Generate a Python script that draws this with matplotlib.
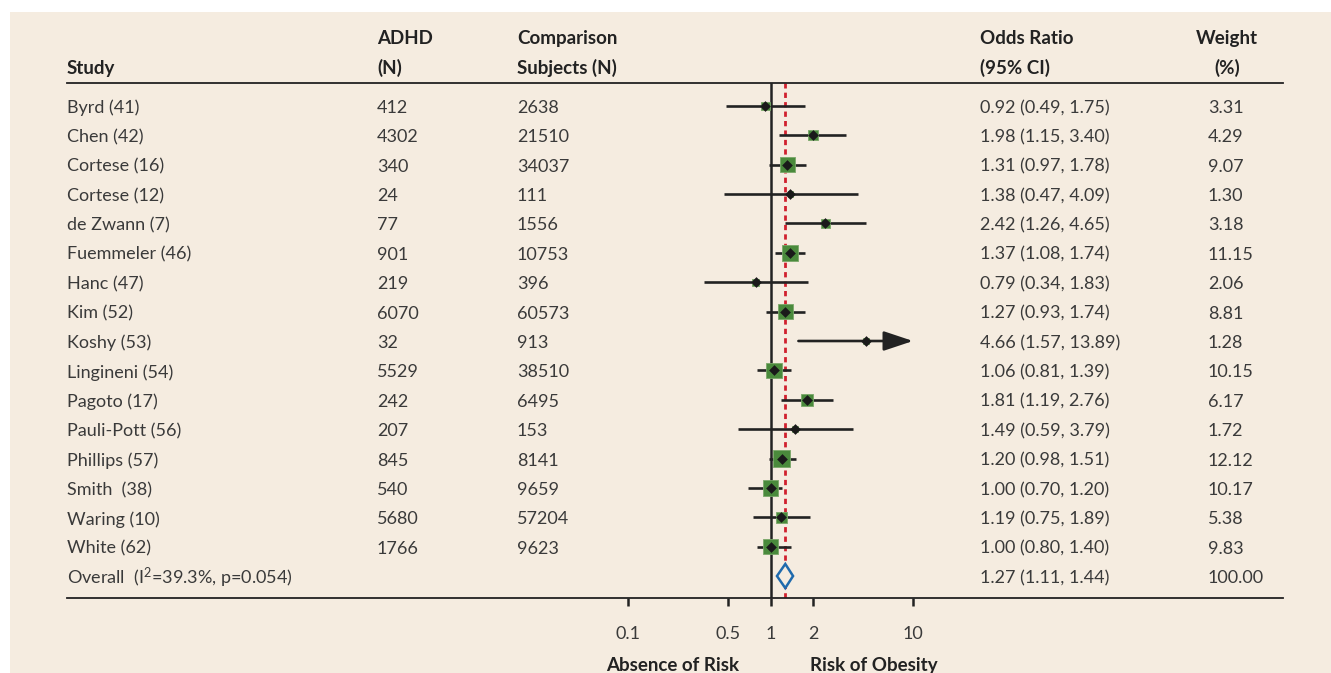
import numpy as np
import matplotlib.pyplot as plt
from matplotlib.patches import Rectangle, Polygon
from matplotlib.transforms import blended_transform_factory

# study data
studies = ["Byrd (41)", "Chen (42)", "Cortese (16)", "Cortese (12)", "de Zwann (7)",
           "Fuemmeler (46)", "Hanc (47)", "Kim (52)", "Koshy (53)", "Lingineni (54)",
           "Pagoto (17)", "Pauli-Pott (56)", "Phillips (57)", "Smith  (38)",
           "Waring (10)", "White (62)"]
adhd_n = [412, 4302, 340, 24, 77, 901, 219, 6070, 32, 5529, 242, 207, 845, 540, 5680, 1766]
comp_n = [2638, 21510, 34037, 111, 1556, 10753, 396, 60573, 913, 38510, 6495, 153,
          8141, 9659, 57204, 9623]
odds = [0.92, 1.98, 1.31, 1.38, 2.42, 1.37, 0.79, 1.27, 4.66, 1.06, 1.81, 1.49, 1.20,
        1.00, 1.19, 1.00]
ci_lo = [0.49, 1.15, 0.97, 0.47, 1.26, 1.08, 0.34, 0.93, 1.57, 0.81, 1.19, 0.59, 0.98,
         0.70, 0.75, 0.80]
ci_hi = [1.75, 3.40, 1.78, 4.09, 4.65, 1.74, 1.83, 1.74, 13.89, 1.39, 2.76, 3.79, 1.51,
         1.20, 1.89, 1.40]
weights = [3.31, 4.29, 9.07, 1.30, 3.18, 11.15, 2.06, 8.81, 1.28, 10.15, 6.17, 1.72,
           12.12, 10.17, 5.38, 9.83]

overall_label = r"Overall  (I$^{2}$=39.3%, p=0.054)"
overall_or, overall_lo, overall_hi = 1.27, 1.11, 1.44
overall_weight = "100.00"

xticks = [0.1, 0.5, 1, 2, 10]
xticklabels = ["0.1", "0.5", "1", "2", "10"]
x_clip = 10  # CIs beyond this get an arrow

W, H = 1331, 673
BG = "#f5ece0"
TXT = "#3a3a3a"
HDR = "#222222"
GREEN = "#4a8a3c"
RED = "#d0202e"
BLUE = "#1f6aad"
FS = 13
FS_HDR = 13.5

plt.rcParams["font.family"] = ["Lato", "DejaVu Sans"]
plt.rcParams["mathtext.default"] = "regular"

fig = plt.figure(figsize=(W / 100, H / 100), dpi=100, facecolor="white")
fig.patches.append(Rectangle((10 / W, 0), 1 - 10 / W, 1 - 12 / H, transform=fig.transFigure,
                             facecolor=BG, edgecolor="none", zorder=-10))

# axes spans the table width, top/bottom spines are the rule lines
ax = fig.add_axes([67 / W, (H - 598) / H, (1283 - 67) / W, 515 / H])
ax.set_facecolor("none")
ax.set_xscale("log")
x_left = 10 ** ((67 - 770.5) / 142.5)
x_right = 10 ** ((1283 - 770.5) / 142.5)
ax.set_xlim(x_left, x_right)
n = len(studies)
row_h = 29.4
ax.set_ylim(n + 22 / row_h, -23 / row_h)

for side in ["left", "right"]:
    ax.spines[side].set_visible(False)
for side in ["top", "bottom"]:
    ax.spines[side].set_linewidth(1.3)
    ax.spines[side].set_color("#222222")
ax.set_yticks([])
ax.set_xticks(xticks)
ax.set_xticklabels(xticklabels, fontsize=FS, color=TXT)
ax.xaxis.set_minor_locator(plt.NullLocator())
ax.tick_params(axis="x", direction="out", length=6, width=1.8, pad=14.5, color="#222222")

rows = np.arange(n)

# reference lines
ax.axvline(1, color="#222222", lw=1.8, zorder=2)
ax.axvline(overall_or, color=RED, lw=2.0, ls=(0, (1.9, 1.5)), zorder=2)

# confidence intervals
for i in rows:
    if ci_hi[i] > x_clip:
        ax.annotate("", xy=(x_clip, i), xytext=(ci_lo[i], i),
                    arrowprops=dict(arrowstyle="-|>,head_length=1.8,head_width=0.6",
                                    color="#222222", lw=1.9, shrinkA=0, shrinkB=0),
                    zorder=3)
    else:
        ax.plot([ci_lo[i], ci_hi[i]], [i, i], color="#222222", lw=1.9, zorder=3,
                solid_capstyle="butt")

ax.scatter(odds, rows, s=np.array(weights) * 12.3, marker="s", color=GREEN,
           edgecolor="#7aa86a", linewidth=0.6, zorder=4)
ax.scatter(odds, rows, s=30, marker="D", color="#1a1a1a", zorder=5, linewidth=0)

# overall diamond
dh = 0.41
ax.add_patch(Polygon([(overall_lo, n), (overall_or, n - dh), (overall_hi, n),
                      (overall_or, n + dh)], closed=True, facecolor=BG,
                     edgecolor=BLUE, lw=1.8, zorder=5))

# table columns (x in figure fraction, y in rows)
tr = blended_transform_factory(fig.transFigure, ax.transData)
col_study, col_adhd, col_comp, col_or, col_w, col_w_hdr = 67, 377, 517, 980, 1208, 1227
dy = 2 / row_h  # nudge text to match baseline

y_h1 = (36 - 106) / row_h + dy
y_h2 = (66 - 106) / row_h + dy
hdr_kw = dict(transform=tr, fontsize=FS_HDR, fontweight="bold", color=HDR, va="center")
ax.text(col_study / W, y_h2, "Study", ha="left", **hdr_kw)
ax.text(col_adhd / W, y_h1, "ADHD", ha="left", **hdr_kw)
ax.text(col_adhd / W, y_h2, "(N)", ha="left", **hdr_kw)
ax.text(col_comp / W, y_h1, "Comparison", ha="left", **hdr_kw)
ax.text(col_comp / W, y_h2, "Subjects (N)", ha="left", **hdr_kw)
ax.text(col_or / W, y_h1, "Odds Ratio", ha="left", **hdr_kw)
ax.text(col_or / W, y_h2, "(95% CI)", ha="left", **hdr_kw)
ax.text(col_w_hdr / W, y_h1, "Weight", ha="center", **hdr_kw)
ax.text(col_w_hdr / W, y_h2, "(%)", ha="center", **hdr_kw)

cell_kw = dict(transform=tr, fontsize=FS, color=TXT, va="center", ha="left")
for i in rows:
    y = i + dy
    ax.text(col_study / W, y, studies[i], **cell_kw)
    ax.text(col_adhd / W, y, str(adhd_n[i]), **cell_kw)
    ax.text(col_comp / W, y, str(comp_n[i]), **cell_kw)
    ax.text(col_or / W, y, f"{odds[i]:.2f} ({ci_lo[i]:.2f}, {ci_hi[i]:.2f})", **cell_kw)
    ax.text(col_w / W, y, f"{weights[i]:.2f}", **cell_kw)

ax.text(col_study / W, n + dy, overall_label, **cell_kw)
ax.text(col_or / W, n + dy,
        f"{overall_or:.2f} ({overall_lo:.2f}, {overall_hi:.2f})", **cell_kw)
ax.text(col_w / W, n + dy, overall_weight, **cell_kw)

# direction labels under the axis
y_dir = n + (666 - 576) / row_h
ax.text(0.6, y_dir, "Absence of Risk", ha="right", va="center", fontsize=FS_HDR,
        fontweight="bold", color=HDR, clip_on=False)
ax.text(1.9, y_dir, "Risk of Obesity", ha="left", va="center", fontsize=FS_HDR,
        fontweight="bold", color=HDR, clip_on=False)

fig.savefig("out.png", dpi=100, facecolor=fig.get_facecolor())
